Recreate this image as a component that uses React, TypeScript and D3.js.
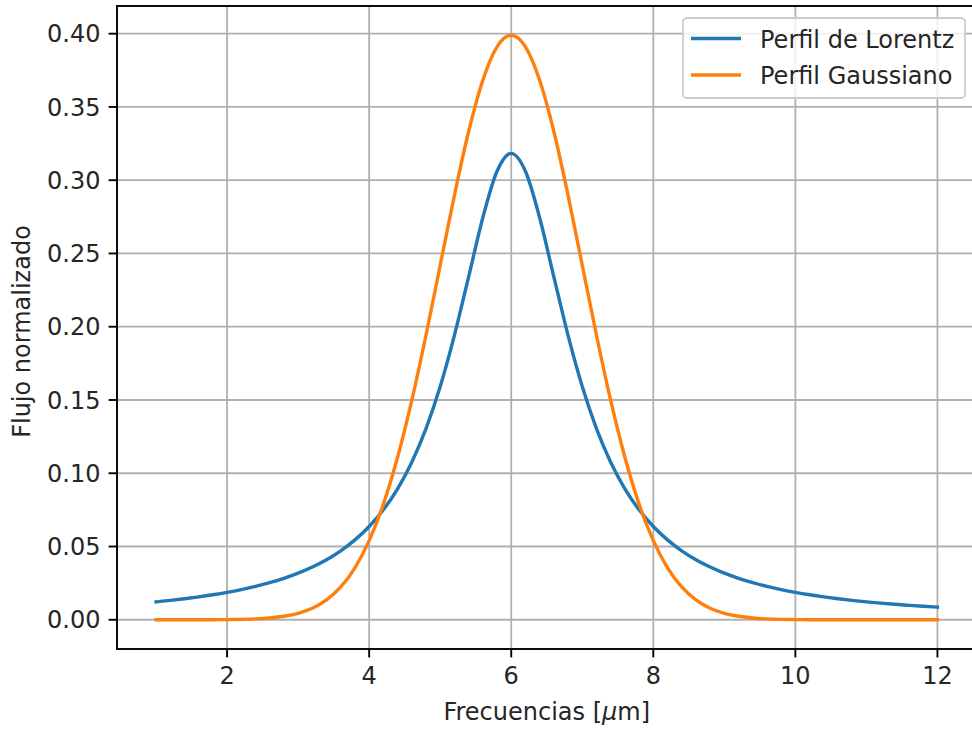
import React from "react";
import * as d3 from "d3";

const xValues: number[] = [
  1.0, 1.2, 1.4, 1.6, 1.8, 2.0, 2.2, 2.4, 2.6, 2.8, 3.0, 3.2, 3.4, 3.6, 3.8, 4.0,
  4.2, 4.4, 4.6, 4.8, 5.0, 5.2, 5.4, 5.6, 5.8, 6.0, 6.2, 6.4, 6.6, 6.8, 7.0, 7.2,
  7.4, 7.6, 7.8, 8.0, 8.2, 8.4, 8.6, 8.8, 9.0, 9.2, 9.4, 9.6, 9.8, 10.0, 10.2, 10.4,
  10.6, 10.8, 11.0, 11.2, 11.4, 11.6, 11.8, 12.0,
];

const lorentzValues: number[] = [
  0.01224, 0.01324, 0.01436, 0.01563, 0.01708, 0.01872, 0.02062, 0.0228, 0.02534, 0.02832,
  0.03183, 0.03601, 0.04102, 0.04709, 0.05451, 0.06366, 0.07507, 0.08941, 0.10754, 0.13046,
  0.15916, 0.19409, 0.23405, 0.27441, 0.30607, 0.31831, 0.30607, 0.27441, 0.23405, 0.19409,
  0.15916, 0.13046, 0.10754, 0.08941, 0.07507, 0.06366, 0.05451, 0.04709, 0.04102, 0.03601,
  0.03183, 0.02832, 0.02534, 0.0228, 0.02062, 0.01872, 0.01708, 0.01563, 0.01436, 0.01324,
  0.01224, 0.01135, 0.01055, 0.00984, 0.00919, 0.0086,
];

const gaussValues: number[] = [
  0.0, 0.0, 0.00001, 0.00002, 0.00006, 0.00013, 0.00029, 0.00061, 0.00123, 0.00238,
  0.00443, 0.00792, 0.01358, 0.0224, 0.03548, 0.05399, 0.07895, 0.11092, 0.14973, 0.19419,
  0.24197, 0.28969, 0.33323, 0.36827, 0.39104, 0.39894, 0.39104, 0.36827, 0.33323, 0.28969,
  0.24197, 0.19419, 0.14973, 0.11092, 0.07895, 0.05399, 0.03548, 0.0224, 0.01358, 0.00792,
  0.00443, 0.00238, 0.00123, 0.00061, 0.00029, 0.00013, 0.00006, 0.00002, 0.00001, 0.0,
  0.0, 0.0, 0.0, 0.0, 0.0, 0.0,
];

const xTicks: number[] = [2, 4, 6, 8, 10, 12];
const yTicks: number[] = [0, 0.05, 0.1, 0.15, 0.2, 0.25, 0.3, 0.35, 0.4];
const seriesNames: string[] = ["Perfil de Lorentz", "Perfil Gaussiano"];
const seriesColors: string[] = ["#1f77b4", "#ff7f0e"];

const W = 972;
const H = 732;
const left = 117;
const top = 6;
const bottom = 649;
const FONT = "'DejaVu Sans', sans-serif";
const FS = 24;
const TXT = "#262626";

export default function App() {
  const x = d3.scaleLinear().domain([0.45, 12.55]).range([left, 976.5]);
  const y = d3.scaleLinear().domain([-0.01995, 0.41889]).range([bottom, top]);
  const line = d3
    .line<number>()
    .x((_, i) => x(xValues[i]))
    .y((v) => y(v))
    .curve(d3.curveMonotoneX);
  const series = [lorentzValues, gaussValues];
  const right = x(12.55);

  return (
    <svg
      width={W}
      height={H}
      style={{ position: "absolute", left: 0, top: 0, background: "#fff" }}
      fontFamily={FONT}
    >
      <rect x={0} y={0} width={W} height={H} fill="#fff" />
      {/* grid */}
      {xTicks.map((t) => (
        <line key={"gx" + t} x1={x(t)} x2={x(t)} y1={top} y2={bottom} stroke="#b0b0b0" strokeWidth={1.8} />
      ))}
      {yTicks.map((t) => (
        <line key={"gy" + t} x1={left} x2={right} y1={y(t)} y2={y(t)} stroke="#b0b0b0" strokeWidth={1.8} />
      ))}
      {/* series */}
      {series.map((s, i) => (
        <path
          key={"s" + i}
          d={line(s) || ""}
          fill="none"
          stroke={seriesColors[i]}
          strokeWidth={3.4}
          strokeLinejoin="round"
          strokeLinecap="square"
        />
      ))}
      {/* spines */}
      <rect x={left} y={top} width={right - left} height={bottom - top} fill="none" stroke="#000" strokeWidth={1.9} />
      {/* x ticks */}
      {xTicks.map((t) => (
        <g key={"xt" + t}>
          <line x1={x(t)} x2={x(t)} y1={bottom} y2={bottom + 8.4} stroke="#000" strokeWidth={1.9} />
          <text x={x(t)} y={684} textAnchor="middle" fontSize={FS} fill={TXT}>
            {t}
          </text>
        </g>
      ))}
      {/* y ticks */}
      {yTicks.map((t) => (
        <g key={"yt" + t}>
          <line x1={left - 8.4} x2={left} y1={y(t)} y2={y(t)} stroke="#000" strokeWidth={1.9} />
          <text x={100.5} y={y(t)} dy="0.36em" textAnchor="end" fontSize={FS} fill={TXT}>
            {t.toFixed(2)}
          </text>
        </g>
      ))}
      {/* axis labels */}
      <text x={(left + right) / 2} y={720} textAnchor="middle" fontSize={FS} fill={TXT}>
        Frecuencias [<tspan fontStyle="italic">μ</tspan>m]
      </text>
      <text
        transform={`translate(30,${(top + bottom) / 2 + 4}) rotate(-90)`}
        textAnchor="middle"
        fontSize={FS}
        fill={TXT}
      >
        Flujo normalizado
      </text>
      {/* legend */}
      <rect x={683} y={18} width={282} height={80} rx={4} fill="#fff" fillOpacity={0.8} stroke="#cccccc" strokeWidth={1.8} />
      {seriesNames.map((n, i) => {
        const ly = 38.5 + i * 36.5;
        return (
          <g key={"lg" + i}>
            <line x1={691} x2={741} y1={ly} y2={ly} stroke={seriesColors[i]} strokeWidth={3.4} />
            <text x={760} y={ly} dy="0.38em" fontSize={FS} fill={TXT}>
              {n}
            </text>
          </g>
        );
      })}
    </svg>
  );
}
